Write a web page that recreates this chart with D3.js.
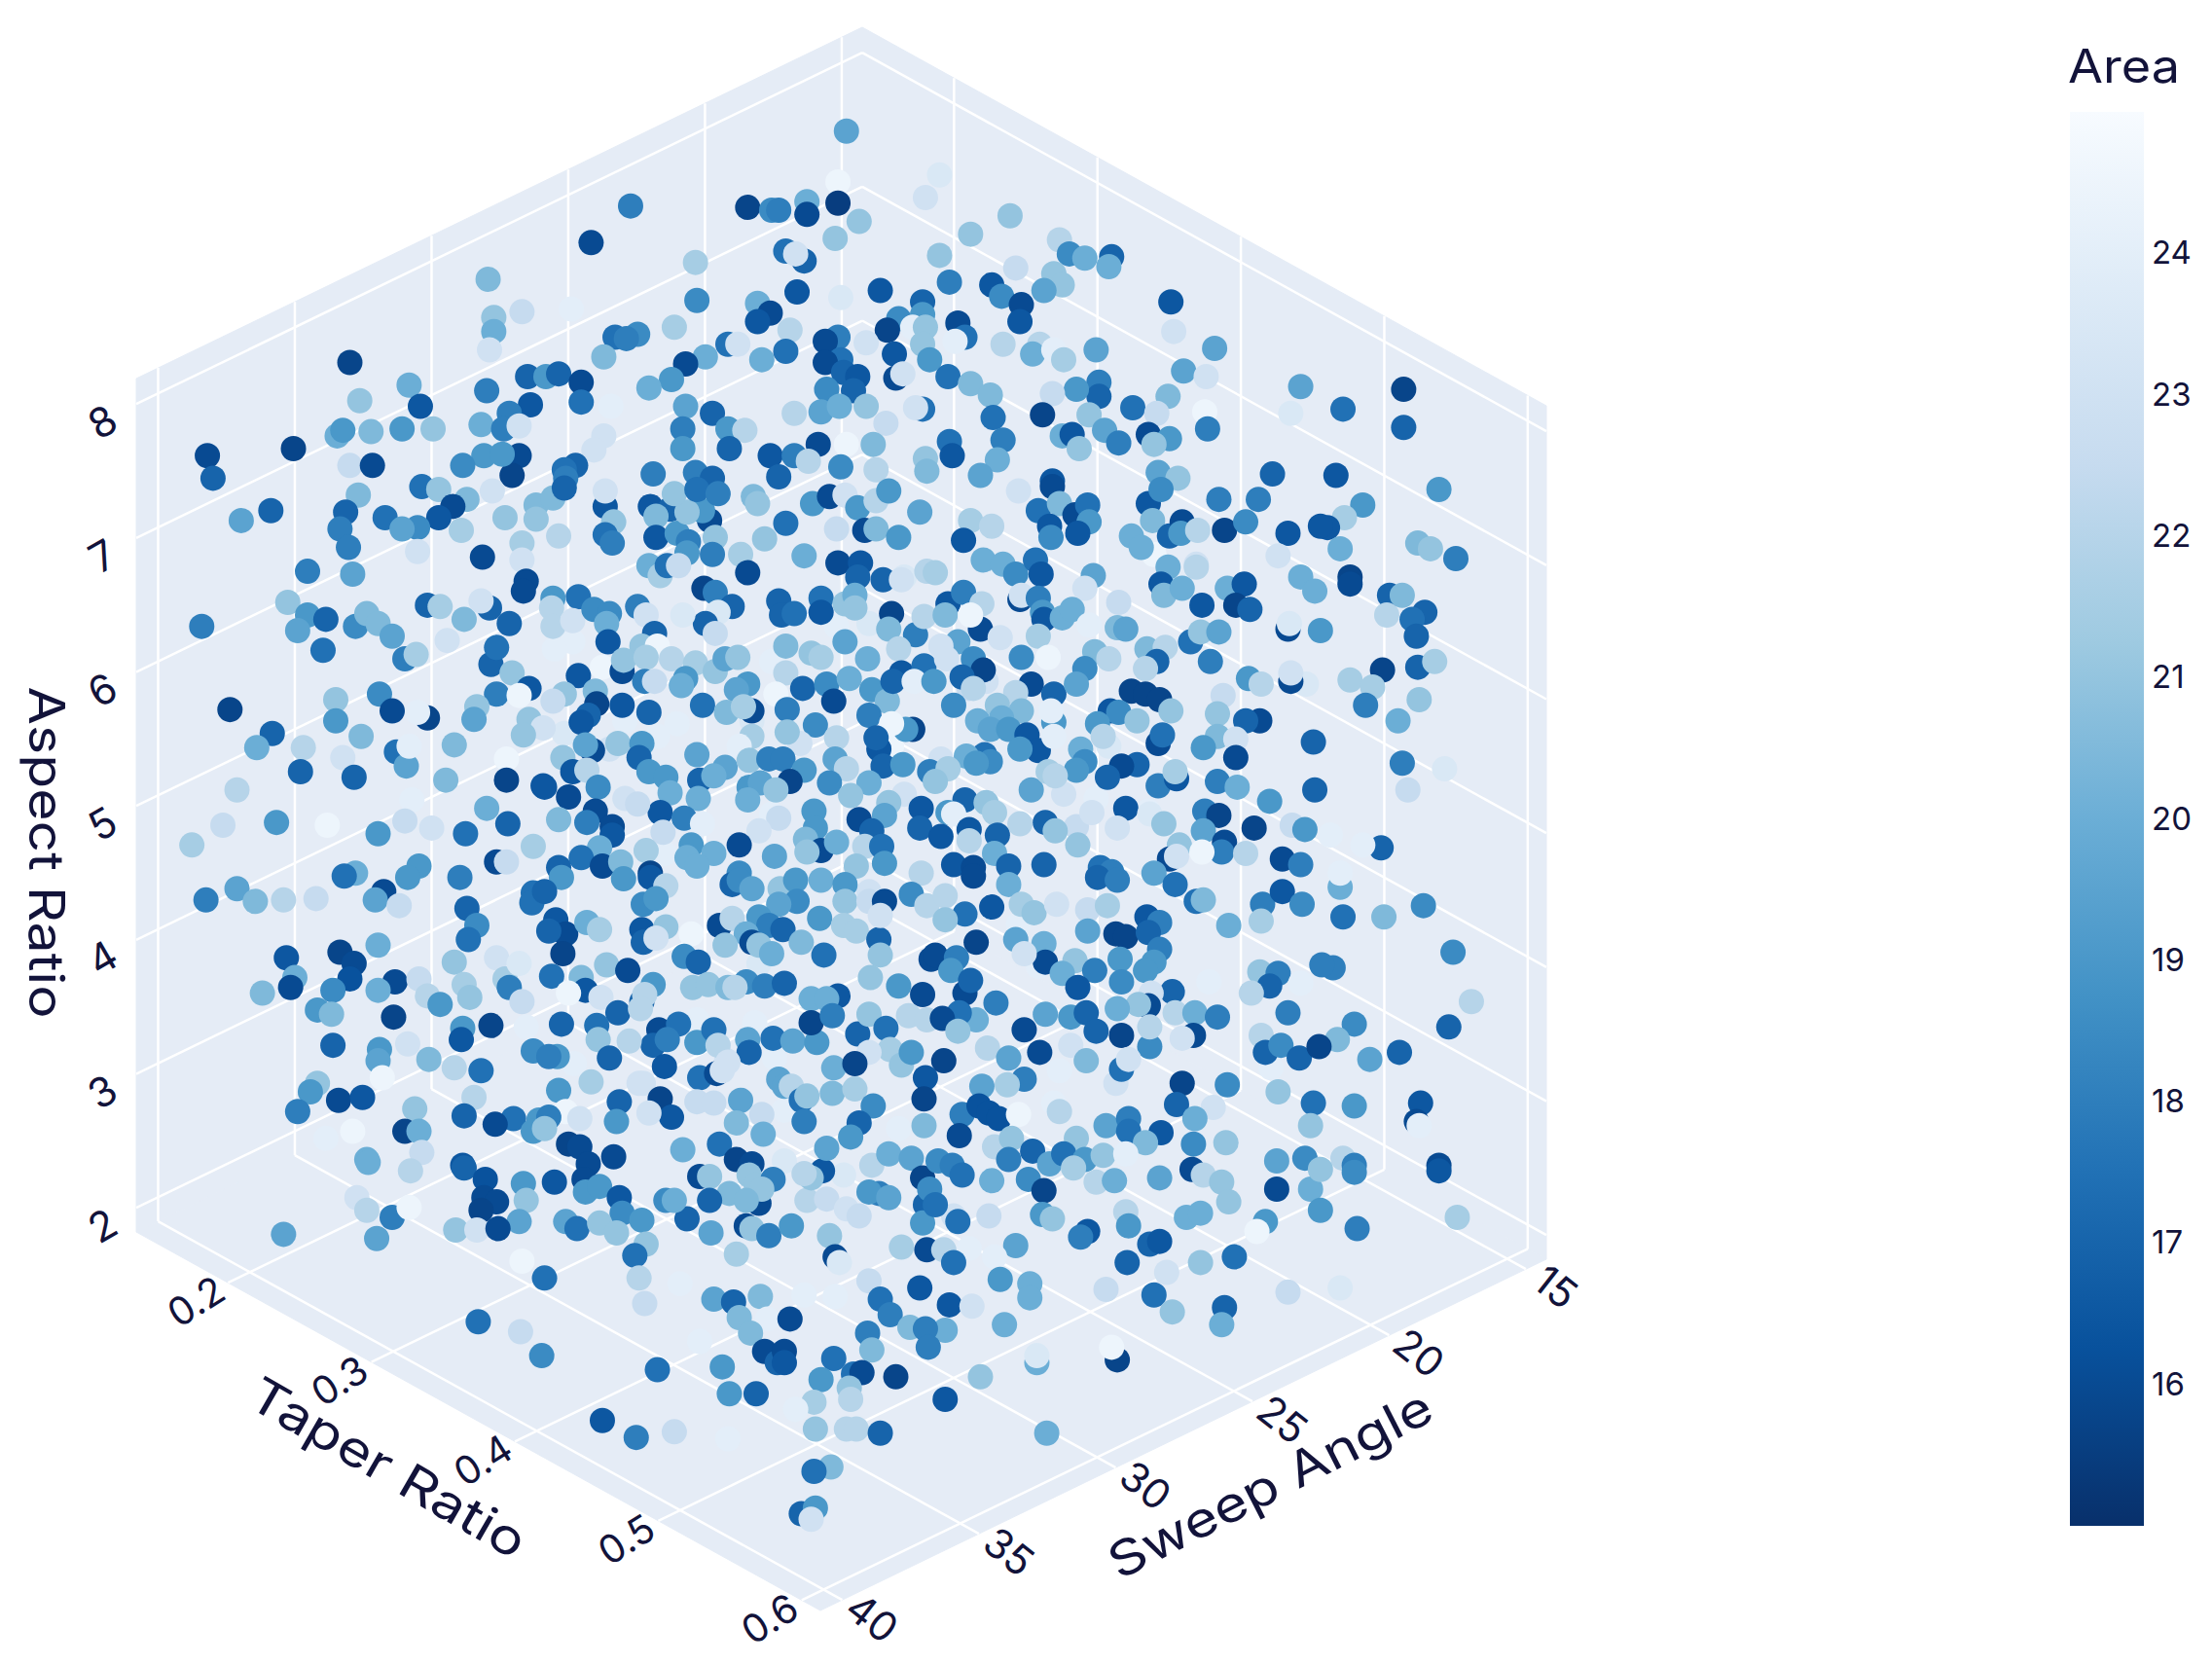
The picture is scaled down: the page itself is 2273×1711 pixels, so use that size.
<!DOCTYPE html>
<html>
<head>
<meta charset="utf-8">
<script src="https://cdn.jsdelivr.net/npm/d3@7"></script>
<style>
  html, body { margin: 0; padding: 0; background: #fff; }
  text { font-family: Inter, "Open Sans", sans-serif; fill: #12133a; }
</style>
</head>
<body>
<div id="chart"></div>
<script>
// tick labels
const sweepTicks = [15, 20, 25, 30, 35, 40];
const taperTicks = [0.2, 0.3, 0.4, 0.5, 0.6];
const aspectTicks = [2, 3, 4, 5, 6, 7, 8];
const areaTicks = [16, 17, 18, 19, 20, 21, 22, 23, 24];
const blues = ['#08306b', '#08519c', '#2171b5', '#4292c6', '#6baed6', '#9ecae1', '#c6dbef', '#deebf7', '#f7fbff'];

// points: [across, down, area], in the plane the 3d view
// is flattened to (the third coordinate can't be read from a flat picture)
const faintBehind = [[406,455,24],[393,460,24],[427,473,24.5],[480,513,24],[466,522,24],[547,469,24],[616,442,23.5],[641,409,23.5],[593,444,24],[443,511,24],[400,520,23.5],[443,566,23],[547,577,24],[641,563,23],[471,605,24],[533,511,23.5],[632,529,24.5],[432,531,23],[667,538,23],[699,483,23],[687,488,22.5],[777,566,24],[814,575,24],[786,529,23.5],[848,400,23],[754,563,23],[818,393,24.5],[763,586,22.5],[926,485,23.5],[494,723,24],[535,725,24],[549,750,24],[515,752,23],[453,768,23],[572,851,22],[407,754,24],[637,800,24],[556,787,24],[598,833,23.5],[616,632,23],[556,823,23.5],[490,662,24.5],[538,683,23.5],[747,782,24],[759,741,23],[751,759,24],[736,685,24],[791,768,23],[901,757,24],[676,862,23],[722,655,24]];

const upperLeft = [[447,146,18],[530,147,15.8],[547,149,18.5],[419,172,16],[493,186,21.5],[346,198,20.5],[494,213,18.5],[350,225,21],[370,221,22.5],[537,215,20],[546,222,16],[537,228,16.5],[350,235,20],[347,248,23],[478,232,21.5],[405,219,24],[452,237,18.5],[436,239,17.5],[444,240,18],[428,253,20.5],[516,244,17.5],[523,244,23],[500,253,20],[540,255,20],[486,258,16],[248,257,15.8],[290,273,20],[476,269,19],[460,275,20],[374,267,17],[387,267,19],[396,265,17],[412,271,16],[345,277,18],[255,284,21],[298,288,16.5],[412,285,17.5],[376,287,16.5],[433,288,24],[486,288,19.5],[505,293,17],[361,293,18],[341,301,20],[357,304,18],[368,302,23],[239,309,20],[243,305,19],[263,306,20.5],[285,304,19],[307,304,21],[484,304,18],[516,304,19],[528,305,22],[428,309,23],[208,318,15.8],[147,323,16],[421,319,23],[484,318,19],[517,318,17],[546,323,16.5],[368,323,16],[363,337,15.8],[343,323,19],[356,322,19],[248,330,22.5],[264,330,16],[328,330,18.5],[408,330,17],[400,333,17.5],[401,339,18],[151,339,17],[463,336,18],[493,335,18],[505,339,17],[299,345,17.5],[311,347,21],[349,348,23],[254,351,20.5],[331,354,20.5],[380,358,20.5],[192,362,17],[321,359,16],[358,367,21],[380,368,21],[171,369,19.5],[245,363,17],[273,367,17.5],[311,367,16.5],[296,374,18.5],[241,375,18],[327,376,21.5],[285,375,19.5],[247,388,18],[370,385,21.5],[296,391,23],[342,395,16],[370,397,23],[218,405,18],[250,407,19.5],[373,412,16]];

const upperRight = [[600,93,19.5],[594,129,24.5],[666,124,23.5],[656,140,23],[594,144,15.5],[572,143,20],[572,152,16],[609,157,21],[552,149,18],[716,153,21],[592,169,21],[688,166,21],[751,170,22],[666,181,21],[758,180,18.5],[769,183,20],[788,182,17],[786,189,20],[557,178,17.5],[570,185,17],[564,180,23],[720,190,22.5],[747,194,21],[753,202,21],[740,206,19.5],[673,200,18],[703,202,16.5],[710,210,18.5],[565,207,16.5],[596,211,23.5],[624,206,16.5],[654,214,17],[724,216,16],[723,228,16.5],[830,214,16.5],[832,235,23],[654,223,19],[637,226,18.5],[679,229,16],[647,232,24],[629,234,15.8],[560,234,22],[656,232,21],[684,239,17.5],[677,242,24],[861,247,19.5],[777,248,19.5],[594,239,18],[585,242,16],[711,244,22],[614,243,23],[654,244,21],[737,244,22],[732,251,20],[747,248,24],[754,255,21.5],[557,249,17.5],[634,251,16.5],[596,255,17.5],[585,257,16],[659,255,19],[839,263,19.5],[855,267,23],[598,264,17],[608,267,16.5],[922,274,19.5],[995,276,15.8],[635,268,16],[640,265,23],[672,267,17.5],[688,272,20.5],[702,280,20.5],[586,276,18.5],[605,277,17],[779,271,18],[779,281,17],[763,276,19],[746,279,22.5],[828,281,20.5],[803,289,17.5],[952,290,17.5],[915,293,23.5],[739,294,15.8],[854,292,24.5],[563,293,22],[582,292,19.5],[595,288,20],[614,288,21],[654,290,17.5],[649,289,23],[704,296,17.5],[772,294,21],[820,293,22.5],[995,303,17],[856,304,18],[628,300,22.5],[783,305,19.5],[814,308,16],[829,311,19],[818,315,21],[753,309,20],[760,308,16.5],[793,314,18],[765,318,21],[711,312,18],[600,315,24.5],[580,315,16],[619,315,20.5],[673,313,17.5],[675,323,16.5],[563,323,18],[573,327,22],[707,326,20],[596,331,18.5],[656,325,21],[657,334,20.5],[621,333,22],[821,335,19.5],[835,339,21],[902,336,17],[947,337,16.5],[695,337,19.5],[746,341,16.5],[552,338,17],[1020,347,19],[966,358,19],[953,367,21.5],[941,374,16.5],[950,389,20],[1005,385,20.5],[1014,389,21],[1032,396,18],[957,409,15.8]];

const centreTopLeft = [[392,353,20.5],[396,380,22],[400,346,17],[429,359,16.5],[429,348,23],[435,370,21],[429,379,17.5],[434,385,18],[461,359,16.5],[475,361,17],[465,366,20.5],[465,381,16.5],[480,378,19],[488,384,18],[487,392,19],[503,369,16],[498,362,19],[487,363,21],[507,381,21],[505,393,18],[478,350,21],[494,347,17.5],[509,350,18],[534,352,20.5],[537,357,21],[557,371,17.5],[542,382,21],[576,357,19],[588,352,16],[599,351,23],[608,360,19],[621,355,22],[630,348,19],[652,363,19.5],[613,376,16],[621,375,20.5],[637,381,19],[593,375,22.5],[525,393,21.5],[530,406,16],[570,394,20],[594,399,16],[610,399,16.5],[608,409,17],[626,411,17],[657,405,22],[639,411,23],[460,401,20],[468,408,21.5],[473,401,17.5],[481,401,22.5],[499,417,15.8],[507,420,18],[519,430,17],[509,434,23.5],[500,442,17],[507,449,22.5],[410,423,17.5],[392,424,19],[391,431,22],[392,444,22],[406,440,23],[421,432,18.5],[432,435,18.5],[430,442,20],[431,455,16.5],[452,430,18],[458,436,23],[484,436,23.5],[464,449,17],[455,458,21],[466,458,24.5],[552,426,17],[554,436,17],[563,435,17.5],[582,424,17.5],[582,434,16.5],[599,428,21],[606,422,20],[606,431,21],[599,455,19.5],[632,435,15.8],[630,446,20.5],[649,450,18],[655,437,22],[637,460,22],[557,458,20.5],[575,463,21],[582,466,21.5],[441,476,16],[442,468,21],[458,466,21.5],[457,483,18],[464,483,22.5],[476,467,22],[410,479,16.5],[422,490,20.5],[423,499,15.8],[417,507,17],[412,512,16.5],[441,500,16.5],[460,505,17],[400,492,21],[392,497,22.5],[493,470,21.5],[507,476,21],[514,467,19.5],[523,466,21],[486,481,19],[483,486,20],[557,477,22],[550,492,24.5],[530,485,19],[522,489,19.5],[498,500,17.5],[515,505,20.5],[533,504,16],[527,501,21.5],[569,488,17],[586,485,18.5],[591,497,16],[558,503,18],[602,481,20],[615,467,20],[618,489,19],[629,497,20.5],[639,477,16.5],[633,483,17],[655,472,17.5],[648,483,24],[578,514,18.5],[567,527,23],[558,519,21],[616,507,18],[647,517,15.8],[642,517,19],[632,513,24.5],[623,531,16.5],[621,523,17],[593,523,22],[420,532,16],[415,528,19.5],[399,537,21],[406,547,16.5],[416,546,22],[438,527,21],[455,527,19],[453,537,17],[494,535,19.5],[533,522,21.5],[524,529,24],[460,547,19],[472,551,19],[514,544,19.5],[531,539,21],[545,538,18],[555,538,18],[570,546,19],[560,554,15.8],[592,538,19.5],[600,545,22],[626,543,17],[640,542,19],[659,547,18],[588,555,18.5],[616,555,20],[496,553,17],[506,550,20],[386,558,16.5],[403,565,16],[424,558,18.5],[475,562,20],[495,566,20],[531,558,19],[539,555,19.5],[530,567,20],[550,560,21],[603,564,21],[630,569,21],[422,575,16],[416,583,18],[396,581,20.5],[468,576,16.5],[485,580,18],[452,570,22.5],[577,575,19],[627,578,19.5],[609,581,16],[653,573,16.5],[618,589,17],[652,587,17],[434,586,16],[434,592,16.5],[498,584,24],[470,590,22.5],[552,580,22.5],[538,589,23],[578,587,19],[571,595,20.5],[524,599,16],[582,603,16],[572,604,21],[490,599,19],[506,605,20],[458,603,21.5],[425,601,20],[412,608,17.5],[549,607,19.5],[593,597,20],[613,600,22],[625,600,17.5],[396,615,17],[427,614,16],[440,611,20.5],[461,619,15.8],[487,608,20],[494,614,20],[524,619,18.5],[607,614,21],[627,612,19],[653,619,22]];

const centreTopRight = [[722,348,23],[746,345,16],[688,369,21.5],[703,373,22],[683,383,16.5],[736,362,17.5],[751,357,20.5],[744,373,16.5],[745,381,18.5],[762,365,16],[771,358,17.5],[772,370,19],[764,378,16.5],[814,357,16.5],[823,347,18.5],[817,369,20.5],[802,380,20],[809,388,20],[864,354,18],[892,354,18],[829,380,17],[838,370,16],[837,378,19],[849,376,22],[868,376,15.8],[883,370,18.5],[913,378,16.5],[936,373,16.5],[906,394,23],[697,397,20],[711,400,20],[720,407,18.5],[734,397,17.5],[738,407,16.5],[775,408,19.5],[769,417,23],[828,402,20],[848,402,22],[823,414,16.5],[825,422,20.5],[838,417,20],[852,429,16.5],[870,417,20],[882,414,16.5],[876,429,15.8],[886,432,17],[922,409,20],[932,419,20],[663,406,21.5],[672,428,16.5],[683,420,18],[696,428,22],[670,436,20.5],[695,446,16],[688,436,24.5],[723,425,16],[724,422,23],[736,424,18],[739,434,19],[740,439,16.5],[753,438,20],[760,432,20],[772,443,24],[793,427,22.5],[792,445,20.5],[798,446,19.5],[662,483,19],[736,451,21.5],[709,452,23],[913,446,16],[914,442,23.5],[936,447,19],[844,455,17.5],[851,448,21],[864,448,19.5],[858,469,18],[813,460,20.5],[826,459,22],[820,469,17],[812,474,22],[679,455,19.5],[667,458,23],[724,466,18.5],[743,466,24.5],[776,462,20.5],[786,467,22],[769,474,18.5],[690,467,18.5],[671,467,23],[697,475,15.8],[682,480,17],[690,488,22],[676,500,18.5],[731,485,16],[747,492,17],[720,491,22],[763,485,19.5],[802,490,15.8],[812,492,15.8],[822,496,15.8],[830,504,21],[787,504,16.5],[793,505,18.5],[806,511,21],[778,513,19],[782,522,22],[867,493,22.5],[863,506,21],[885,481,19],[894,485,22],[915,483,16],[915,477,23],[707,500,21],[724,504,20.5],[693,511,20],[710,509,20],[702,517,19.5],[715,517,19],[747,512,19],[745,504,24],[728,521,16.5],[736,532,16.5],[723,531,19],[747,522,24],[893,511,16],[883,511,17],[863,522,20.5],[853,530,19],[876,524,23],[876,537,16],[821,527,16],[824,521,17.5],[931,526,17],[698,535,17.5],[685,536,20],[702,540,18.5],[692,541,19],[766,531,20],[769,540,18.5],[763,546,19],[672,545,21.5],[663,554,21],[806,542,17],[795,543,16],[785,551,17],[731,560,19.5],[743,547,21.5],[748,550,22],[821,557,18],[834,552,16.5],[833,547,21.5],[863,554,18],[877,558,20],[932,560,17],[900,568,19],[684,567,17],[699,569,21],[705,576,21.5],[672,576,19],[676,577,24],[741,583,17],[723,584,22],[667,593,16.5],[687,588,16.5],[687,596,22],[707,592,17],[705,605,20],[764,599,21],[774,576,23],[748,589,21],[798,573,16.5],[815,577,23.5],[825,584,21],[792,587,23],[854,575,18],[864,578,15.8],[853,589,19.5],[836,599,21],[868,597,16],[866,604,18],[889,587,15.8],[916,585,22.5],[925,588,19],[883,605,22],[852,604,24.5],[829,609,16],[834,607,23],[676,613,16.5],[690,615,16],[715,614,17],[740,613,17],[780,615,17.5],[788,618,18],[909,609,16],[922,613,18],[818,619,19.5]];

const centreBottomLeft = [[398,622,19],[442,623,19],[461,622,16.5],[472,628,22],[456,641,18.5],[465,637,19],[519,627,17],[524,624,18.5],[533,630,19.5],[553,630,21],[564,624,19],[565,639,18.5],[582,624,20],[552,641,19.5],[599,627,19],[599,639,21],[616,639,22.5],[627,639,16],[646,634,18.5],[657,642,22],[386,632,17],[394,652,16.5],[401,662,16],[389,660,17],[399,676,15.8],[416,654,20],[425,659,21.5],[455,659,16.5],[456,668,17],[472,657,21],[465,665,23],[510,656,16],[519,651,22],[538,650,19],[545,656,18],[555,659,17],[529,662,20],[581,651,19],[598,656,21.5],[607,660,21.5],[623,666,17],[624,649,23],[568,668,20.5],[514,670,21],[533,668,16],[538,670,21],[547,676,20],[584,677,17.5],[624,677,21],[485,678,18.5],[495,682,17],[430,684,21],[445,688,16],[463,698,19],[391,692,17.5],[412,693,20.5],[415,702,16.5],[403,704,24.5],[426,707,23],[491,700,21],[502,698,21],[516,700,20.5],[529,696,18.5],[521,700,22],[542,699,18],[556,697,17],[594,706,16.5],[575,708,20],[586,708,20],[617,693,21],[637,699,19],[654,705,16],[660,680,16],[455,710,17],[457,705,22],[438,718,17],[423,727,17.5],[398,726,17],[454,715,22],[467,730,16],[481,726,17.5],[463,741,17],[473,737,18],[446,738,22],[424,737,21],[494,739,19],[506,730,17.5],[509,741,22],[530,737,19.5],[531,746,17],[548,736,17.5],[562,738,19.5],[579,739,19],[575,725,15.8],[590,720,18],[608,733,17],[616,719,21],[628,729,17.5],[644,720,22],[657,723,22],[631,744,21.5],[639,755,21],[646,746,19],[616,746,23],[432,750,17],[471,756,16.5],[395,749,19],[389,749,18],[591,757,20],[606,754,15.8],[516,753,23],[419,767,21.5],[456,768,23],[396,773,19],[496,764,17.5],[508,761,16],[512,759,23],[552,765,19.5],[556,770,19.5],[656,764,16.5],[439,781,17],[468,779,15.8],[476,792,16.5],[437,795,19],[460,789,23],[494,781,22.5],[506,782,22.5],[525,780,19.5],[540,790,22.5],[522,796,20.5],[541,804,20],[561,770,22],[568,780,17.5],[570,795,18],[572,777,21],[590,775,20.5],[606,772,21.5],[619,784,18.5],[609,796,17],[603,806,19],[655,779,15.8],[655,798,20.5],[401,788,24.5],[411,793,23],[389,792,18],[386,800,21],[403,811,15.8],[411,813,16],[417,825,16],[414,836,16],[435,820,16],[393,838,16.5],[415,845,19],[425,841,19],[484,815,20],[510,811,17.5],[522,822,15.8],[533,825,16],[531,833,21],[536,840,21],[496,834,16],[503,834,21],[548,836,18],[517,846,20.5],[503,851,17],[538,853,16],[540,843,21],[529,851,20.5],[472,851,18.5],[439,849,16.5],[441,860,18.5],[455,865,19],[487,864,17],[478,851,20],[401,866,19.5],[409,871,17.5],[425,867,21],[437,874,21],[504,874,19.5],[529,869,16],[533,871,21],[545,876,18],[561,869,19],[522,889,21.5],[458,882,21],[450,890,17.5],[588,876,21],[592,891,16],[595,895,23.5],[583,830,16.5],[575,835,21],[570,832,22],[586,814,19.5],[618,826,22],[630,818,20],[646,821,19.5],[654,835,15.8],[623,846,18],[616,845,19],[630,849,19.5],[586,850,22.5],[600,857,23],[609,862,22.5],[656,854,17],[654,867,19],[659,843,18.5],[639,884,21.5],[657,886,16]];

const centreBottomRight = [[690,621,16],[715,627,20],[703,643,16.5],[724,641,21.5],[733,647,21],[684,648,17.5],[670,635,22],[670,652,21],[749,641,23],[778,622,17],[792,624,18],[833,627,17.5],[848,639,17.5],[853,638,20.5],[871,656,20],[895,641,18],[909,632,16.5],[923,641,18.5],[894,653,21.5],[771,645,22.5],[785,642,21.5],[771,660,19.5],[791,662,15.8],[798,664,15.8],[813,650,16.5],[822,654,18],[814,661,17],[822,673,18],[818,682,19],[812,688,19],[794,680,19],[795,696,18.5],[692,668,15.8],[720,666,19.5],[740,669,20],[741,682,16],[663,677,16],[678,679,18],[674,688,19],[726,676,23],[762,681,21],[776,688,18],[753,690,20],[764,700,16.5],[893,689,21],[906,690,18],[900,699,17],[887,704,22],[922,697,24],[937,684,18],[857,696,24],[831,703,17],[816,704,23],[814,713,16],[807,712,21],[792,715,20],[684,704,16],[688,695,17],[706,711,18],[692,723,20],[680,718,17.5],[668,722,16],[679,731,21],[741,719,19.5],[759,721,19],[770,718,17],[777,731,17],[726,730,16],[913,718,18],[833,718,22],[847,718,20],[863,721,18],[846,734,16],[838,736,23],[795,734,15.8],[815,742,18.5],[815,728,22],[894,734,22],[897,746,17],[908,741,18.5],[921,750,17],[935,742,15.8],[669,752,15.8],[700,743,22],[715,750,19.5],[737,746,16],[795,758,17.5],[800,751,23],[770,752,20.5],[726,765,18],[714,769,21.5],[696,770,19.5],[838,768,15.8],[834,783,17],[870,769,18.5],[906,774,21],[931,782,17.5],[860,785,23],[847,793,20],[846,811,18.5],[869,810,21],[929,798,21],[682,790,18],[694,784,16.3],[701,789,16.3],[708,793,16.3],[680,805,16],[722,790,24.5],[751,788,22],[784,798,19.5],[800,793,18],[800,802,17.5],[823,803,16.5],[812,810,20.5],[763,807,21],[705,813,22],[717,807,21],[732,816,17],[715,822,18],[744,825,19.5],[754,818,17.5],[769,822,19],[761,828,21.5],[782,819,21],[798,818,24],[665,823,18.5],[675,826,18],[682,833,17.5],[703,837,20],[729,836,18.5],[740,844,15.8],[777,838,22],[790,837,20],[822,835,19.5],[845,829,16],[853,833,22],[866,838,21],[871,852,21],[905,823,19.5],[925,821,18.5],[905,843,16],[929,843,20],[936,829,21],[663,854,17.5],[679,866,17.5],[701,862,22.5],[739,861,19],[746,864,21],[798,859,22],[800,869,19],[841,863,20],[851,860,20],[897,866,19],[936,858,19],[891,873,24.5],[771,873,16.5],[766,877,18],[815,882,17],[822,880,16.5],[720,883,19.5],[687,885,24],[705,891,24],[669,886,22],[676,895,17.5],[799,895,17],[851,895,21],[875,891,17.5]];

const leftSide = [[143,444,18],[204,427,21],[218,436,19],[211,447,19.5],[231,439,17],[229,461,17.5],[252,444,18.5],[260,435,20.5],[268,442,20.5],[278,451,19.5],[303,429,17],[312,430,21.5],[287,467,18],[295,464,21.5],[329,439,20.5],[317,454,23],[347,431,17],[341,426,23],[371,419,16],[361,442,17],[348,471,17],[352,459,17.5],[363,477,21],[352,492,18],[375,488,16.5],[368,493,24.5],[269,492,18.5],[238,496,21],[163,503,15.8],[278,504,16],[303,509,15.8],[296,505,24],[238,511,19],[338,501,21],[336,510,19.5],[375,510,21],[385,516,23],[193,520,17],[182,530,20],[256,522,20.5],[322,528,20.5],[215,530,22],[281,533,17.5],[288,543,19.5],[290,529,24],[243,537,23],[371,521,21],[359,538,24.5],[213,547,17],[251,551,17],[316,553,20.5],[359,553,15.8],[385,557,16.5],[168,560,22],[292,567,24],[345,573,20],[196,583,19],[360,584,17],[287,582,22.5],[158,585,22.5],[232,585,24.5],[306,587,23],[268,591,19],[330,591,17.5],[136,599,21.5],[378,600,21.5],[352,611,16],[359,611,22.5],[297,614,19],[289,622,19],[252,619,20],[244,621,17.5],[326,622,18],[272,632,16],[266,638,19.5],[168,630,19.5],[146,638,18],[181,639,20.5],[201,638,22],[224,637,22.5],[283,642,22.5],[378,633,17.5],[377,640,17.5],[331,644,17],[338,656,18.5],[332,666,17.5],[268,670,20],[203,679,16.5],[241,675,15.8],[251,683,16],[248,694,16.3],[322,682,21],[352,679,23],[209,693,20],[358,694,21.5],[368,683,23.5],[280,696,16],[297,694,22.5],[206,700,16],[236,702,18.5],[186,704,20.5],[268,702,20],[329,698,21.5],[333,707,21],[361,700,18],[225,716,19],[235,719,20.5],[303,706,22],[312,712,19],[370,710,22.5],[279,721,15.8],[373,728,24],[348,727,15.8],[328,729,19],[327,737,16.5],[236,741,17],[269,744,19],[268,752,19.5],[289,740,23],[378,745,18.5],[304,751,20.5],[341,759,17.5],[322,757,22],[271,764,24.5],[225,768,21],[220,774,19],[240,780,16],[257,778,16.5],[211,788,18],[336,778,22],[294,786,21],[329,791,17],[364,793,17.5],[351,797,16],[382,794,19],[378,802,19],[287,802,15.8],[297,802,20],[250,802,24.5],[231,807,24],[260,822,20],[299,817,22.5],[328,826,16.5]];

const rightSide = [[985,422,17],[994,422,20.5],[983,436,22],[1010,434,17],[1001,439,17.5],[1004,451,17],[957,414,16],[980,475,15.8],[1005,473,17],[1017,469,21.5],[957,482,21.5],[973,487,21.5],[968,500,18],[1006,496,21],[991,511,20],[994,541,18],[998,560,22.5],[1024,545,23.5],[943,592,24],[979,601,17],[966,599,24],[950,629,20],[950,619,24],[1009,642,18.5],[952,650,17.5],[981,650,20.5],[1030,675,18.5],[945,686,18],[1043,710,22],[960,726,18.5],[1027,728,17],[948,737,20.5],[992,746,17],[971,751,19.5],[960,784,19],[1007,782,16.5],[1004,795,16],[1006,798,24],[952,821,22],[960,826,18],[1020,826,16],[960,831,18.5],[1020,830,16.5],[1033,863,21.5],[962,871,18]];

const lowerLeft = [[261,824,20],[291,830,22],[329,828,17],[344,836,16.3],[371,839,19],[343,849,16],[352,852,16],[341,858,15.8],[373,851,21],[253,849,23],[260,858,22],[278,863,18],[290,856,24.5],[368,866,19.5],[323,872,21],[338,872,23],[353,871,16],[201,875,19.5],[267,878,19.5],[370,894,24.5],[386,906,17.5],[453,906,22],[457,924,22.5],[482,910,24],[506,921,19.5],[520,923,17],[539,919,20.5],[524,934,20.5],[544,935,24],[532,945,20.5],[496,951,24],[339,937,17.5],[369,944,22.5],[384,961,18.5],[542,958,16],[551,966,17],[466,971,17.5],[512,969,19],[517,988,19],[536,988,17],[427,1007,16.5],[451,1019,18],[478,1015,22.5],[516,1020,24]];

const lowerRight = [[827,902,23],[616,908,22.5],[709,907,19],[730,910,20],[652,913,16.5],[784,914,22.5],[913,916,22.5],[950,913,23.5],[818,918,17.5],[730,920,20],[624,921,17.5],[673,925,16.5],[689,926,23],[592,919,24],[570,918,24],[868,927,17],[831,930,21],[631,932,18],[560,935,16],[712,939,20],[866,939,20],[645,941,20.5],[670,943,20],[656,942,18],[658,955,18],[615,945,18],[618,957,20.5],[556,958,16],[556,966,16.5],[591,963,17.5],[582,978,19],[605,974,17.5],[611,973,16],[635,976,15.8],[792,964,15.8],[788,955,24.5],[735,966,20],[735,961,23.5],[695,976,21],[670,992,16.5],[602,984,21],[603,992,22],[577,994,21.5],[564,999,24],[578,1013,21],[600,1013,22],[607,1013,22],[624,1016,17],[742,1016,20],[589,1040,20.5],[577,1043,17.5],[568,1073,17],[578,1069,19],[575,1077,23]];

const points = [...faintBehind, ...upperLeft, ...upperRight, ...leftSide, ...rightSide, ...centreTopLeft, ...centreTopRight, ...centreBottomLeft, ...centreBottomRight, ...lowerLeft, ...lowerRight];

const width = 2273, height = 1711;

const svg = d3.select('#chart').append('svg')
  .attr('width', width).attr('height', height)
  .style('display', 'block');

// 3d box, seen from the corner with no perspective
const sweepScale = d3.scaleLinear().domain([14.25, 40.8]).range([0, 1]);
const taperScale = d3.scaleLinear().domain([0.136, 0.613]).range([0, 1]);
const aspectScale = d3.scaleLinear().domain([1.82, 8.19]).range([0, 1]);

function project(sweep, taper, aspect) {
  const s = sweepScale(sweep), t = taperScale(taper), a = aspectScale(aspect);
  return [886 + t * 703 - s * 746, 905 + t * 389 + s * 361 - a * 877];
}

const [sMin, sMax] = sweepScale.domain();
const [tMin, tMax] = taperScale.domain();
const [aMin, aMax] = aspectScale.domain();
const line = d3.line();

// the three back panes
const panes = [
  [[sMin, tMin, aMin], [sMax, tMin, aMin], [sMax, tMin, aMax], [sMin, tMin, aMax]],
  [[sMin, tMin, aMin], [sMin, tMax, aMin], [sMin, tMax, aMax], [sMin, tMin, aMax]],
  [[sMin, tMin, aMin], [sMax, tMin, aMin], [sMax, tMax, aMin], [sMin, tMax, aMin]]
];
svg.append('g').selectAll('path').data(panes).join('path')
  .attr('d', d => line(d.map(p => project(...p))) + 'Z')
  .attr('fill', '#e5ecf6').attr('stroke', '#e5ecf6').attr('stroke-width', 1);

// grid lines
const gridLines = [];
sweepTicks.forEach(s => {
  gridLines.push([[s, tMin, aMin], [s, tMin, aMax]]);
  gridLines.push([[s, tMin, aMin], [s, tMax, aMin]]);
});
taperTicks.forEach(t => {
  gridLines.push([[sMin, t, aMin], [sMin, t, aMax]]);
  gridLines.push([[sMin, t, aMin], [sMax, t, aMin]]);
});
aspectTicks.forEach(a => {
  gridLines.push([[sMin, tMin, a], [sMax, tMin, a]]);
  gridLines.push([[sMin, tMin, a], [sMin, tMax, a]]);
});
svg.append('g').selectAll('path').data(gridLines).join('path')
  .attr('d', d => line(d.map(p => project(...p))))
  .attr('fill', 'none').attr('stroke', '#fff').attr('stroke-width', 2.5);

// points
const viewX = d3.scaleLinear().domain([0, 1568]).range([0, width]);
const viewY = d3.scaleLinear().domain([0, 1180]).range([0, 1180 * width / 1568]);
const areaColor = d3.scaleLinear()
  .domain(d3.quantize(d3.interpolate(15, 25), blues.length))
  .range(blues);

svg.append('g').selectAll('circle').data(points).join('circle')
  .attr('cx', d => viewX(d[0]))
  .attr('cy', d => viewY(d[1]))
  .attr('r', 13)
  .attr('fill', d => areaColor(d[2]));

// tick labels
function tickLabels(data, pos, label, dx, dy, angle, size) {
  svg.append('g').selectAll('text').data(data).join('text')
    .attr('transform', d => {
      const [x, y] = pos(d);
      return `translate(${x + dx},${y + dy}) rotate(${angle})`;
    })
    .attr('text-anchor', 'middle')
    .attr('dominant-baseline', 'central')
    .attr('font-size', size)
    .text(label);
}
tickLabels(aspectTicks, a => project(sMax, tMin, a), d => d, -35, 18, -30, 42);
tickLabels(taperTicks, t => project(sMax, t, aMin), d => d.toFixed(1), -33, 19, -32, 40);
tickLabels(sweepTicks, s => project(s, tMax, aMin), d => d, 31, 18, 38, 42);

// axis titles
const titles = [
  { text: 'Aspect Ratio', x: 48, y: 876, angle: 90, len: 341 },
  { text: 'Taper Ratio', x: 399, y: 1508, angle: 30, len: 319 },
  { text: 'Sweep Angle', x: 1305, y: 1525, angle: -27, len: 366 }
];
svg.append('g').selectAll('text').data(titles).join('text')
  .attr('transform', d => `translate(${d.x},${d.y}) rotate(${d.angle})`)
  .attr('text-anchor', 'middle')
  .attr('dominant-baseline', 'central')
  .attr('font-size', 50)
  .attr('textLength', d => d.len)
  .attr('lengthAdjust', 'spacingAndGlyphs')
  .text(d => d.text);

// colour bar
const barY = d3.scaleLinear().domain([15, 25]).range([1568, 115]);
const defs = svg.append('defs');
const grad = defs.append('linearGradient').attr('id', 'areaGrad')
  .attr('x1', 0).attr('y1', 1).attr('x2', 0).attr('y2', 0);
grad.selectAll('stop').data(blues).join('stop')
  .attr('offset', (d, i) => i / (blues.length - 1))
  .attr('stop-color', d => d);
svg.append('rect')
  .attr('x', 2127).attr('y', barY(25))
  .attr('width', 76).attr('height', barY(15) - barY(25))
  .attr('fill', 'url(#areaGrad)');

svg.append('g').attr('transform', 'translate(2204,0)')
  .call(d3.axisRight(barY).tickValues(areaTicks).tickSize(0).tickPadding(7))
  .call(g => g.select('.domain').remove())
  .call(g => g.selectAll('text').attr('font-size', 33).style('font-family', null));

svg.append('text')
  .attr('x', 2125).attr('y', 85)
  .attr('font-size', 48)
  .attr('textLength', 115)
  .attr('lengthAdjust', 'spacingAndGlyphs')
  .text('Area');
</script>
</body>
</html>
